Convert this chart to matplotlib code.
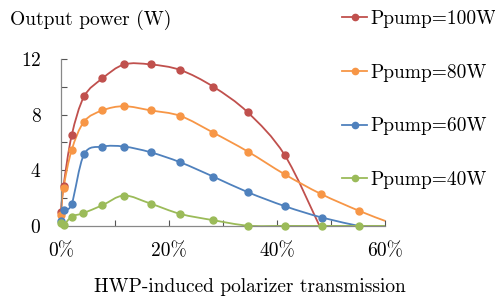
import matplotlib
matplotlib.use('Agg')
import matplotlib.pyplot as plt
from matplotlib.path import Path
from matplotlib.patches import PathPatch
from matplotlib.lines import Line2D
import numpy as np

plt.rcParams['font.family'] = ['cmr10', 'DejaVu Serif']
plt.rcParams['axes.formatter.use_mathtext'] = True

# data (transmission as fraction, output power in W)
x_100 = [0.0, 0.005, 0.02, 0.043, 0.077, 0.117, 0.166, 0.221, 0.282, 0.346, 0.414, 0.478]
y_100 = [1.0, 2.9, 6.5, 9.3, 10.6, 11.6, 11.6, 11.2, 10.0, 8.15, 5.1, 0.05]
x_80 = [0.0, 0.005, 0.02, 0.043, 0.077, 0.117, 0.166, 0.221, 0.282, 0.346, 0.414, 0.481, 0.552, 0.6]
y_80 = [0.8, 2.75, 5.45, 7.5, 8.3, 8.6, 8.3, 7.9, 6.7, 5.34, 3.71, 2.3, 1.08, 0.36]
x_60 = [0.0, 0.005, 0.02, 0.043, 0.077, 0.117, 0.166, 0.221, 0.282, 0.346, 0.415, 0.483, 0.551]
y_60 = [0.38, 1.15, 1.58, 5.15, 5.7, 5.7, 5.29, 4.57, 3.54, 2.42, 1.41, 0.6, 0.0]
x_40 = [0.0, 0.005, 0.02, 0.041, 0.077, 0.117, 0.166, 0.221, 0.282, 0.346, 0.414, 0.483, 0.551, 0.6]
y_40 = [0.2, 0.05, 0.67, 0.91, 1.49, 2.18, 1.6, 0.86, 0.41, 0.02, 0.0, 0.0, 0.0, 0.0]

labels = ['Ppump=100W', 'Ppump=80W', 'Ppump=60W', 'Ppump=40W']
colors = ['#C0504D', '#F79646', '#4F81BD', '#9BBB59']
series = [(x_100, y_100), (x_80, y_80), (x_60, y_60), (x_40, y_40)]
xticks = [0, 0.2, 0.4, 0.6]
xticklabels = ['0%', '20%', '40%', '60%']
yticks = [0, 4, 8, 12]


def smooth_path(xs, ys):
    # Excel-style smoothed line: cubic bezier segments through the points
    p = np.column_stack([xs, ys])
    n = len(p)
    verts = [p[0]]
    codes = [Path.MOVETO]
    for i in range(n - 1):
        p0 = p[i - 1] if i > 0 else p[i]
        p3 = p[i + 2] if i + 2 < n else p[i + 1]
        c1 = p[i] + (p[i + 1] - p0) / 6
        c2 = p[i + 1] - (p3 - p[i]) / 6
        verts += [c1, c2, p[i + 1]]
        codes += [Path.CURVE4] * 3
    return Path(verts, codes)


fig = plt.figure(figsize=(4.95, 3.02), dpi=100)
ax = fig.add_axes([0.123, 0.252, 0.655, 0.553])

for (xs, ys), c in zip(series, colors):
    ax.add_patch(PathPatch(smooth_path(xs, ys), facecolor='none', edgecolor=c,
                           lw=1.3, clip_on=False, zorder=2))
    # last point of each line carries no marker
    ax.plot(xs[:-1], ys[:-1], 'o', color=c, ms=5, clip_on=False, zorder=3)

ax.set_xlim(0, 0.6)
ax.set_ylim(0, 12)
ax.set_xticks(xticks)
ax.set_xticklabels(xticklabels)
ax.set_xticks([0.1, 0.3, 0.5], minor=True)
ax.set_yticks(yticks)
ax.set_yticks([2, 6, 10], minor=True)
ax.tick_params(which='both', direction='in', length=4, color='#555555',
               labelsize=14, width=0.8)
ax.tick_params(axis='x', pad=12)
ax.tick_params(axis='y', pad=14)
for s in ['top', 'right']:
    ax.spines[s].set_visible(False)
for s in ['left', 'bottom']:
    ax.spines[s].set_color('#888888')
    ax.spines[s].set_linewidth(0.9)

fig.text(0.02, 0.935, 'Output power (W)', fontsize=14, ha='left', va='center')
fig.text(0.505, 0.05, 'HWP-induced polarizer transmission', fontsize=14,
         ha='center', va='center')

handles = [Line2D([], [], color=c, lw=1.3, marker='o', ms=4.5) for c in colors]
fig.legend(handles, labels, loc='upper left', bbox_to_anchor=(0.691, 0.966),
           frameon=False, fontsize=14, handlelength=1.3, handletextpad=0.15,
           labelspacing=1.83, borderpad=0, borderaxespad=0)

fig.savefig('out.png', dpi=100)
